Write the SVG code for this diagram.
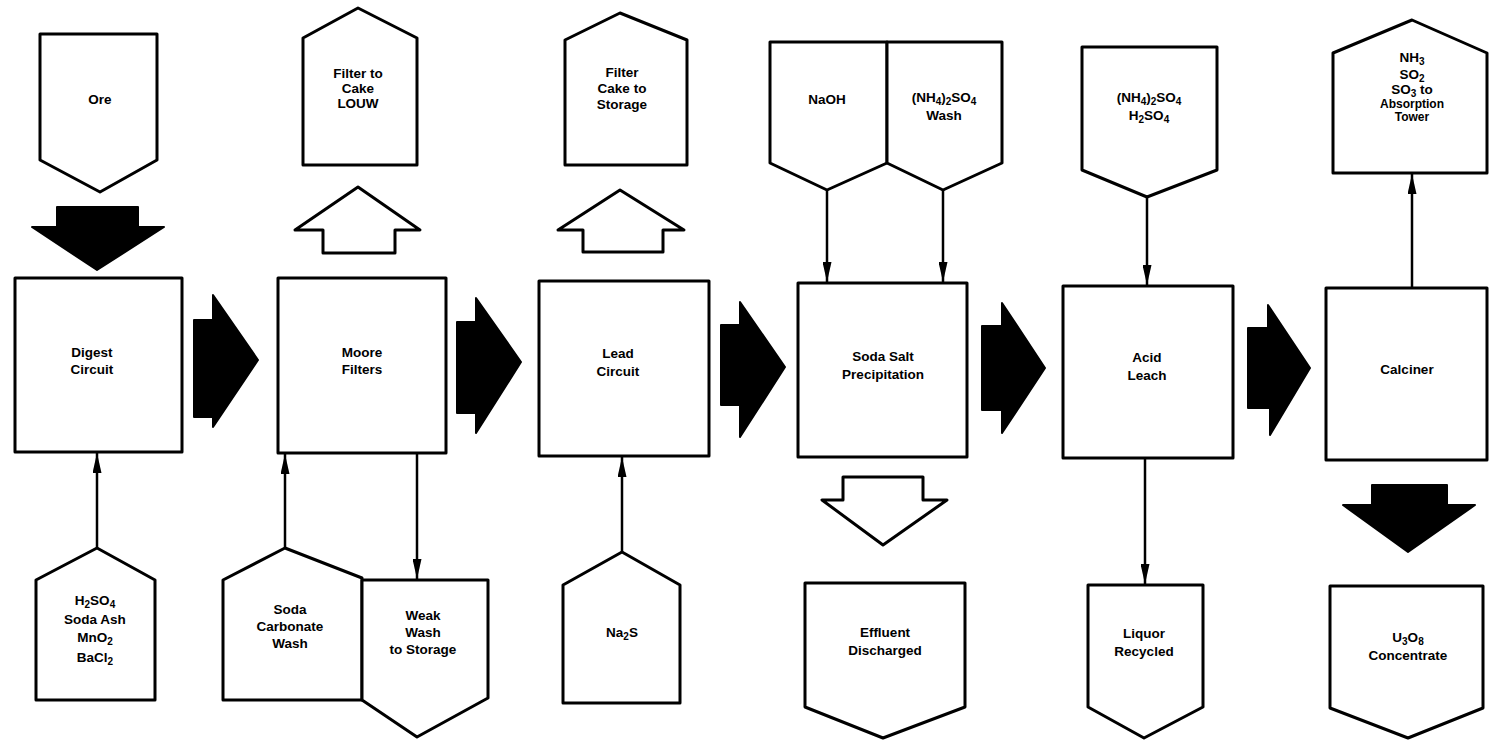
<svg xmlns="http://www.w3.org/2000/svg" width="1489" height="741" viewBox="0 0 1489 741">
<style>
.n{fill:#fff;stroke:#000;stroke-width:3;stroke-linejoin:round}
.t{font-family:"Liberation Sans",Arial,sans-serif;font-weight:bold;font-size:13.5px;fill:#000;text-anchor:middle}
.s{font-size:12px}
.blk{fill:#000;stroke:#000;stroke-width:2;stroke-linejoin:round}
.hol{fill:#fff;stroke:#000;stroke-width:3;stroke-linejoin:round}
.ln{stroke:#000;stroke-width:2.5;fill:none;marker-end:url(#ah)}
</style>
<defs>
<marker id="ah" markerUnits="userSpaceOnUse" viewBox="0 0 20 9" refX="20" refY="4.5" markerWidth="20" markerHeight="9" orient="auto">
<path d="M0,0 L20,4.5 L0,9 z" fill="#000"/>
</marker>
</defs>
<rect width="1489" height="741" fill="#fff"/>

<g id="connectors">
<polygon class="blk" points="57,207 138,207 138,227 164,227 97,270 32,227 57,227"/>
<polygon class="blk" points="194,320 213,320 213,295 258,360 213,427 213,417 194,417"/>
<polygon class="hol" points="358,187 420,230 395,230 395,253 323,253 323,230 295,230"/>
<polygon class="blk" points="457,322 476,322 476,298 521,362 476,433 476,413 457,413"/>
<polygon class="hol" points="620,190 684,230 663,230 663,252 583,252 583,230 558,230"/>
<polygon class="blk" points="721,325 740,325 740,302 785,367 740,437 740,405 721,405"/>
<polygon class="hol" points="843,477 923,477 923,500 947,500 883,545 822,500 843,500"/>
<polygon class="blk" points="982,326 1002,326 1002,303 1045,368 1002,433 1002,410 982,410"/>
<polygon class="blk" points="1248,328 1268,328 1268,305 1310,368 1270,435 1270,408 1248,408"/>
<polygon class="blk" points="1372,485 1447,485 1447,505 1475,505 1408,552 1343,505 1372,505"/>
<line class="ln" x1="827" y1="190" x2="827" y2="282"/>
<line class="ln" x1="943" y1="190" x2="943" y2="282"/>
<line class="ln" x1="1147" y1="197" x2="1147" y2="285"/>
<line class="ln" x1="1412" y1="288" x2="1412" y2="174"/>
<line class="ln" x1="1145" y1="458" x2="1145" y2="584"/>
<line class="ln" x1="97" y1="548" x2="97" y2="453"/>
<line class="ln" x1="285" y1="548" x2="285" y2="454"/>
<line class="ln" x1="417" y1="453" x2="417" y2="579"/>
<line class="ln" x1="622" y1="552" x2="622" y2="457"/>
</g>

<g id="ore"><polygon class="n" points="40,34 157,34 157,160 100,192 40,160"/><text class="t" x="100" y="104">Ore</text></g>
<g id="filter-louw"><polygon class="n" points="358,8 417,38 417,165 303,165 303,38"/><text class="t"><tspan x="358" y="78">Filter to</tspan><tspan x="358" y="93">Cake</tspan><tspan x="358" y="108">LOUW</tspan></text></g>
<g id="filter-storage"><polygon class="n" points="620,13 687,40 687,165 565,165 565,40"/><text class="t"><tspan x="622" y="77">Filter</tspan><tspan x="622" y="93">Cake to</tspan><tspan x="622" y="109">Storage</tspan></text></g>
<g id="naoh"><polygon class="n" points="770,42 887,42 887,163 827,190 770,163"/><text class="t" x="827" y="104">NaOH</text></g>
<g id="nh4-wash"><polygon class="n" points="887,42 1002,42 1002,163 943,190 887,163"/><text class="t"><tspan x="944" y="102">(NH<tspan font-size="10" dy="3">4</tspan><tspan dy="-3">)</tspan><tspan font-size="10" dy="3">2</tspan><tspan dy="-3">SO</tspan><tspan font-size="10" dy="3">4</tspan></tspan><tspan x="944" y="120">Wash</tspan></text></g>
<g id="nh4-h2so4"><polygon class="n" points="1082,47 1217,47 1217,170 1147,197 1082,170"/><text class="t"><tspan x="1149" y="102">(NH<tspan font-size="10" dy="3">4</tspan><tspan dy="-3">)</tspan><tspan font-size="10" dy="3">2</tspan><tspan dy="-3">SO</tspan><tspan font-size="10" dy="3">4</tspan></tspan><tspan x="1149" y="120">H<tspan font-size="10" dy="3">2</tspan><tspan dy="-3">SO</tspan><tspan font-size="10" dy="3">4</tspan></tspan></text></g>
<g id="offgas"><polygon class="n" points="1412,20 1487,53 1487,173 1333,173 1333,53"/><text class="t"><tspan x="1412" y="62">NH<tspan font-size="10" dy="3">3</tspan></tspan><tspan x="1412" y="79">SO<tspan font-size="10" dy="3">2</tspan></tspan><tspan x="1412" y="94">SO<tspan font-size="10" dy="3">3</tspan><tspan dy="-3"> to</tspan></tspan><tspan class="s" x="1412" y="108">Absorption</tspan><tspan class="s" x="1412" y="121">Tower</tspan></text></g>

<g id="digest"><rect class="n" x="15" y="278" width="167" height="174"/><text class="t"><tspan x="92" y="357">Digest</tspan><tspan x="92" y="374">Circuit</tspan></text></g>
<g id="moore"><rect class="n" x="278" y="278" width="168" height="175"/><text class="t"><tspan x="362" y="357">Moore</tspan><tspan x="362" y="374">Filters</tspan></text></g>
<g id="lead"><rect class="n" x="539" y="281" width="170" height="175"/><text class="t"><tspan x="618" y="358">Lead</tspan><tspan x="618" y="376">Circuit</tspan></text></g>
<g id="soda-salt"><rect class="n" x="798" y="283" width="169" height="174"/><text class="t"><tspan x="883" y="361">Soda Salt</tspan><tspan x="883" y="379">Precipitation</tspan></text></g>
<g id="acid-leach"><rect class="n" x="1063" y="286" width="170" height="172"/><text class="t"><tspan x="1147" y="362">Acid</tspan><tspan x="1147" y="380">Leach</tspan></text></g>
<g id="calciner"><rect class="n" x="1326" y="288" width="161" height="172"/><text class="t" x="1407" y="374">Calciner</text></g>

<g id="reagents"><polygon class="n" points="97,548 155,580 155,700 36,700 36,580"/><text class="t"><tspan x="95" y="605">H<tspan font-size="10" dy="3">2</tspan><tspan dy="-3">SO</tspan><tspan font-size="10" dy="3">4</tspan></tspan><tspan x="95" y="624">Soda Ash</tspan><tspan x="95" y="642">MnO<tspan font-size="10" dy="3">2</tspan></tspan><tspan x="95" y="662">BaCl<tspan font-size="10" dy="3">2</tspan></tspan></text></g>
<g id="soda-carbonate"><polygon class="n" points="285,548 362,578 362,700 223,700 223,580"/><text class="t"><tspan x="290" y="614">Soda</tspan><tspan x="290" y="631">Carbonate</tspan><tspan x="290" y="648">Wash</tspan></text></g>
<g id="weak-wash"><polygon class="n" points="362,580 488,580 488,698 417,737 362,700"/><text class="t"><tspan x="423" y="620">Weak</tspan><tspan x="423" y="637">Wash</tspan><tspan x="423" y="654">to Storage</tspan></text></g>
<g id="na2s"><polygon class="n" points="622,552 680,585 680,703 563,703 563,585"/><text class="t" x="622" y="637">Na<tspan font-size="10" dy="3">2</tspan><tspan dy="-3">S</tspan></text></g>
<g id="effluent"><polygon class="n" points="805,583 965,583 965,707 883,738 805,707"/><text class="t"><tspan x="885" y="637">Effluent</tspan><tspan x="885" y="655">Discharged</tspan></text></g>
<g id="liquor"><polygon class="n" points="1088,585 1203,585 1203,707 1144,738 1088,707"/><text class="t"><tspan x="1144" y="638">Liquor</tspan><tspan x="1144" y="656">Recycled</tspan></text></g>
<g id="u3o8"><polygon class="n" points="1330,586 1483,586 1483,708 1408,738 1330,708"/><text class="t"><tspan x="1408" y="642">U<tspan font-size="10" dy="3">3</tspan><tspan dy="-3">O</tspan><tspan font-size="10" dy="3">8</tspan></tspan><tspan x="1408" y="660">Concentrate</tspan></text></g>
</svg>
